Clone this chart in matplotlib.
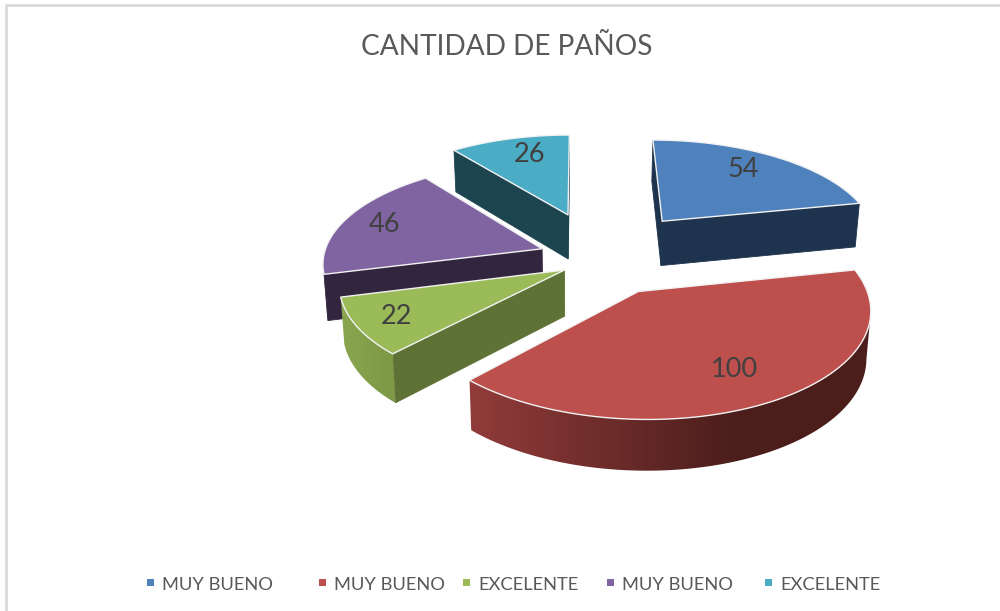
import numpy as np
import matplotlib
matplotlib.use("Agg")
import matplotlib.pyplot as plt
from matplotlib.colors import LinearSegmentedColormap, to_rgb
from matplotlib.patches import Polygon, Rectangle

plt.rcParams['font.family'] = ['Lato', 'DejaVu Sans']

# datos
names = ["MUY BUENO", "MUY BUENO", "EXCELENTE", "MUY BUENO", "EXCELENTE"]
values = [54, 100, 22, 46, 26]

top_colors = ["#4f81bd", "#bd4f4c", "#9bbb59", "#8064a2", "#4bacc6"]
side_colors = ["#1e334e", "#4b1e1c", "#5f7235", "#32263f", "#1d4550"]
arc_left = ["#1e334e", "#923c3a", "#8aa64e", "#32263f", "#1d4550"]
arc_right = ["#1e334e", "#4b1e1c", "#7d9846", "#32263f", "#1d4550"]
arc_grad_px = [(0, 1), (467, 735), (340, 395), (0, 1), (0, 1)]

# separacion de cada trozo en el plano del pastel
explode_x = [0.394, 0.255, -0.07, -0.175, -0.058]
explode_y = [0.20, -0.50, -0.30, -0.09, 0.27]
label_r = [0.76, 0.74, 0.82, 0.80, 0.76]
label_turn = [-3, 0, 0, 0, 3]
draw_order = [4, 3, 0, 2, 1]

# proyeccion
x0, y0 = 580, 240
R, tilt, k = 214, 0.45, 0.13
depth = 45
shrink = 0.985


def project(X, Y, bottom=False):
    s = 1 / (1 + k * Y)
    px = x0 + R * X * s
    py = y0 - R * tilt * Y * s
    if bottom:
        px = x0 + (px - x0) * shrink
        py = py + depth * s**0.6
    return px, py


fig = plt.figure(figsize=(10, 6.11), dpi=100)
ax = fig.add_axes([0, 0, 1, 1])

# marco del grafico
ax.plot([5.5, 5.5, 1000], [611, 4.5, 4.5], color="#d9d9d9", lw=2)

angles = np.concatenate([[0], np.cumsum(values) / np.sum(values) * 360])
z = 2

for i in draw_order:
    theta = np.radians(np.arange(angles[i], angles[i + 1], 1.0))
    theta = np.append(theta, np.radians(angles[i + 1]))
    ex, ey = explode_x[i], explode_y[i]
    X = np.concatenate([[ex], ex + np.sin(theta), [ex]])
    Y = np.concatenate([[ey], ey + np.cos(theta), [ey]])
    tx, ty = project(X, Y)
    bx, by = project(X, Y, bottom=True)

    # caras rectas
    for j in [0, len(X) - 2]:
        if tx[j + 1] < tx[j]:
            quad = [(tx[j], ty[j]), (tx[j + 1], ty[j + 1]), (bx[j + 1], by[j + 1]), (bx[j], by[j])]
            ax.add_patch(Polygon(quad, closed=True, fc=side_colors[i], ec=side_colors[i], lw=0.6, zorder=z))

    # cara curva con degradado
    vis = [j for j in range(1, len(X) - 2) if tx[j + 1] < tx[j]]
    if vis:
        idx = np.array(vis + [vis[-1] + 1])
        outline = np.concatenate([np.column_stack([tx[idx], ty[idx]]),
                                  np.column_stack([bx[idx], by[idx]])[::-1]])
        clip = Polygon(outline, closed=True, fc="none", ec="none", transform=ax.transData)
        ax.add_patch(clip)
        g0, g1 = arc_grad_px[i]
        cmap = LinearSegmentedColormap.from_list("g", [to_rgb(arc_left[i]), to_rgb(arc_right[i])])
        img = ax.imshow(np.linspace(0, 1, 256)[None, :], extent=(g0, g1, 611, 0), cmap=cmap,
                        aspect="auto", zorder=z)
        # fuera del degradado se mantiene el color final
        if g1 < 1000:
            ax.add_patch(Rectangle((g1 - 0.5, 0), 1000, 611, fc=arc_right[i], ec="none", zorder=z,
                                   clip_path=clip))
        img.set_clip_path(clip)
    z += 1

    ax.add_patch(Polygon(np.column_stack([tx, ty]), closed=True, fc=top_colors[i],
                         ec="#f2f2f2", lw=1.0, joinstyle="round", zorder=z))
    z += 1

    mid = np.radians((angles[i] + angles[i + 1]) / 2 + label_turn[i])
    lx, ly = project(ex + label_r[i] * np.sin(mid), ey + label_r[i] * np.cos(mid))
    ax.text(lx, ly, str(values[i]), fontsize=19.5, color="#404040", ha="center", va="center", zorder=40)

ax.text(507, 47, "CANTIDAD DE PAÑOS", fontsize=20.2, color="#595959", ha="center", va="center")

# leyenda
legend_x = [147, 319, 463, 607, 765]
for x, name, col in zip(legend_x, names, top_colors):
    ax.add_patch(Rectangle((x, 579), 7, 7, fc=col, ec="none"))
    ax.text(x + 15, 584.5, name, fontsize=13.2, color="#595959", ha="left", va="center")

ax.set_xlim(0, 1000)
ax.set_ylim(611, 0)
ax.axis("off")

fig.savefig("out.png", dpi=100)
